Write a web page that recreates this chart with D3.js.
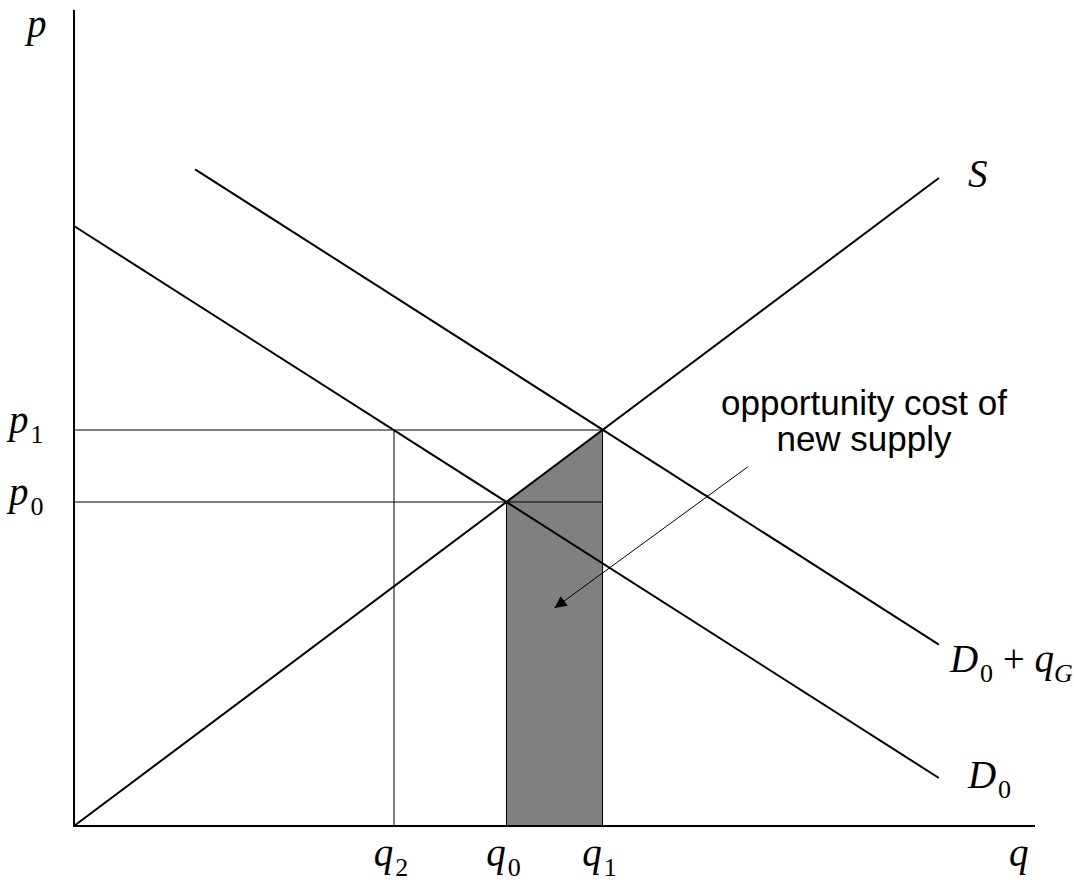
<!DOCTYPE html>
<html>
<head>
<meta charset="utf-8">
<script src="https://cdn.jsdelivr.net/npm/d3@7"></script>
<style>
  html, body { margin: 0; padding: 0; background: #fff; }
  svg { display: block; }
  .it { font-family: "Liberation Serif", "Times New Roman", serif; font-style: italic; }
  .note { font-family: "Liberation Sans", Arial, sans-serif; }
</style>
</head>
<body>
<svg id="chart" width="1074" height="882"></svg>
<script>
// ---- data (economic units) ----
const supplyS = [[0, 0], [9, 6.75]];
const demandD0 = [[0, 6.25], [9, 0.5]];
const demandD0qG = [[1.26, 6.84], [9, 1.89]];
const qValues = [3.33, 4.5, 5.5];          // q2, q0, q1
const qLabels = [["q", "2"], ["q", "0"], ["q", "1"]];
const pValues = [4.125, 3.375];           // p1, p0
const pLabels = [["p", "1"], ["p", "0"]];
const areaPoints = [[4.5, 0], [4.5, 3.375], [5.5, 4.125], [5.5, 0]];
const noteLines = ["opportunity cost of", "new supply"];
const arrowFromTo = [[7.01, 3.74], [5.0, 2.27]];

const svg = d3.select("#chart");
const x = d3.scaleLinear().domain([0, 10]).range([74, 1035]);
const y = d3.scaleLinear().domain([0, 8.5]).range([826, 10]);
const line = d3.line().x(d => x(d[0])).y(d => y(d[1]));

const MAIN = 39, SUB = 26, SHIFT = 10;

svg.append("defs").append("marker")
  .attr("id", "arrowHead").attr("viewBox", "0 0 10 10")
  .attr("refX", 10).attr("refY", 5)
  .attr("markerWidth", 16).attr("markerHeight", 12)
  .attr("markerUnits", "userSpaceOnUse")
  .attr("orient", "auto")
  .append("path").attr("d", "M0,0 L10,5 L0,10 Z").attr("fill", "#000");

// shaded area
svg.append("path").datum(areaPoints)
  .attr("d", d => line(d) + "Z")
  .attr("fill", "#808080").attr("stroke", "#000").attr("stroke-width", 1);

// guide lines
const q0 = qValues[1], q1 = qValues[2], q2 = qValues[0];
const p1 = pValues[0], p0 = pValues[1];
const guides = [
  [[0, p1], [q1, p1]],
  [[0, p0], [q1, p0]],
  [[q2, 0], [q2, p1]]
];
svg.selectAll("path.guide").data(guides).enter().append("path")
  .attr("class", "guide").attr("d", line)
  .attr("fill", "none").attr("stroke", "#000").attr("stroke-width", 1);

// curves
[supplyS, demandD0, demandD0qG].forEach(c => {
  svg.append("path").datum(c).attr("d", line)
    .attr("fill", "none").attr("stroke", "#000").attr("stroke-width", 2);
});

// axes
svg.append("path").datum([[0, 8.5], [0, 0], [10, 0]]).attr("d", line)
  .attr("fill", "none").attr("stroke", "#000").attr("stroke-width", 2);

// labels helper
function italicLabel(xp, yp, main, sub, anchor) {
  const t = svg.append("text").attr("class", "it")
    .attr("x", xp).attr("y", yp).attr("font-size", MAIN)
    .attr("text-anchor", anchor || "start");
  t.append("tspan").text(main);
  if (sub) t.append("tspan").attr("font-size", SUB).attr("dy", SHIFT)
    .attr("dx", 2).attr("font-style", "normal").text(sub);
  return t;
}

// q labels
qValues.forEach((v, i) => italicLabel(x(v) - 3, 866, qLabels[i][0], qLabels[i][1], "middle"));
// p labels
pValues.forEach((v, i) => italicLabel(9, y(v) + 3, pLabels[i][0], pLabels[i][1]));
// axis names
italicLabel(27, 37, "p");
italicLabel(1009, 866, "q");
// curve labels
italicLabel(x(supplyS[1][0]) + 29, y(supplyS[1][1]) + 9, "S");
italicLabel(x(demandD0[1][0]) + 29, y(demandD0[1][1]) + 10, "D", "0");
const lg = svg.append("text").attr("class", "it")
  .attr("x", x(demandD0qG[1][0]) + 11).attr("y", y(demandD0qG[1][1]) + 27).attr("font-size", MAIN);
lg.append("tspan").text("D");
lg.append("tspan").attr("font-size", SUB).attr("dy", SHIFT).attr("dx", 2)
  .attr("font-style", "normal").text("0");
lg.append("tspan").attr("dy", -SHIFT).attr("font-style", "normal").text(" + ");
lg.append("tspan").text("q");
lg.append("tspan").attr("font-size", SUB).attr("dy", SHIFT).text("G");

// annotation
svg.selectAll("text.note").data(noteLines).enter().append("text")
  .attr("class", "note").attr("x", 864).attr("y", (d, i) => 415 + i * 36)
  .attr("text-anchor", "middle").attr("font-size", 35).text(d => d);
svg.append("path").datum(arrowFromTo).attr("d", line)
  .attr("stroke", "#000").attr("stroke-width", 1).attr("fill", "none")
  .attr("marker-end", "url(#arrowHead)");
</script>
</body>
</html>
